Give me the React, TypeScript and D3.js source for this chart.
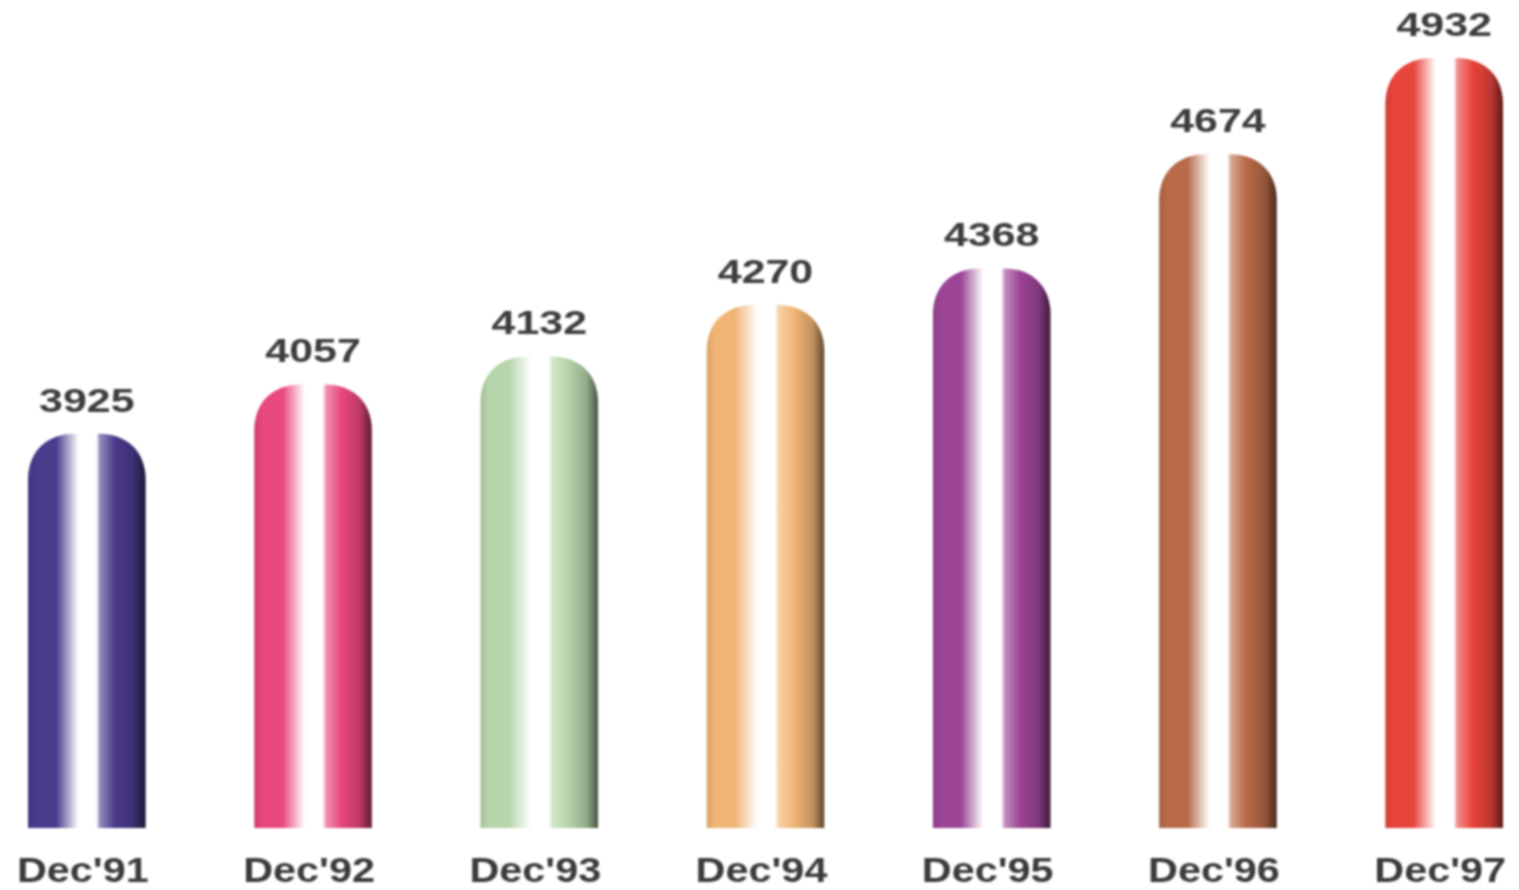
import React from "react";
import * as d3 from "d3";

const categories = ["Dec'91", "Dec'92", "Dec'93", "Dec'94", "Dec'95", "Dec'96", "Dec'97"];
const values = [3925, 4057, 4132, 4270, 4368, 4674, 4932];
const colors = ["#4b3a8c", "#e8477f", "#b6d5aa", "#f0b574", "#9c4595", "#b86a48", "#e8443c"];

const W = 1519;
const H = 890;

function shade(c: string, k: number) {
  const col = d3.rgb(c);
  return col.darker(k).formatHex();
}

export default function App() {
  const x = d3.scaleBand<string>().domain(categories).range([28, 1503]).paddingInner(0.48).paddingOuter(0);
  const y = d3.scaleLinear().domain([2868, 4932]).range([828, 58]);
  const bw = x.bandwidth();
  const r = 46;

  const barPath = (cat: string, v: number) => {
    const p = d3.path();
    const x0 = x(cat)!;
    const x1 = x0 + bw;
    const top = y(v);
    const bottom = y(2868);
    p.moveTo(x0, bottom);
    p.lineTo(x0, top + r);
    p.bezierCurveTo(x0, top + r * 0.35, x0 + r * 0.45, top, x0 + r, top);
    p.lineTo(x1 - r, top);
    p.bezierCurveTo(x1 - r * 0.45, top, x1, top + r * 0.35, x1, top + r);
    p.lineTo(x1, bottom);
    p.closePath();
    return p.toString();
  };

  return (
    <svg
      width={W}
      height={H}
      style={{ position: "absolute", left: 0, top: 0, display: "block", background: "#fff" }}
    >
      <defs>
        {colors.map((c, i) => {
          const light = d3.interpolateRgb(c, "#ffffff")(0.4);
          return (
            <linearGradient key={i} id={`g${i}`} x1="0" x2="1" y1="0" y2="0">
              <stop offset="0" stopColor={shade(c, 0.3)} />
              <stop offset="0.07" stopColor={c} />
              <stop offset="0.24" stopColor={c} />
              <stop offset="0.43" stopColor="#ffffff" />
              <stop offset="0.58" stopColor="#ffffff" />
              <stop offset="0.61" stopColor={light} />
              <stop offset="0.74" stopColor={c} />
              <stop offset="0.9" stopColor={shade(c, 0.6)} />
              <stop offset="1" stopColor={shade(c, 2.6)} />
            </linearGradient>
          );
        })}
        <filter id="blur" x="-5%" y="-5%" width="110%" height="110%">
          <feGaussianBlur stdDeviation="0.9" />
        </filter>
      </defs>
      {categories.map((cat, i) => (
        <path key={cat} d={barPath(cat, values[i])} fill={`url(#g${i})`} filter="url(#blur)" />
      ))}
      {categories.map((cat, i) => {
        const cx = x(cat)! + bw / 2;
        return (
          <text
            key={"v" + cat}
            transform={`translate(${cx},${y(values[i]) - 22}) scale(1.3,1)`}
            textAnchor="middle"
            fontFamily="'Liberation Sans', Arial, sans-serif"
            fontWeight="bold"
            fontSize={33}
            fill="#3c3c3c"
            filter="url(#blur)"
          >
            {values[i]}
          </text>
        );
      })}
      {categories.map((cat) => {
        const cx = x(cat)! + bw / 2;
        return (
          <text
            key={"c" + cat}
            transform={`translate(${cx - 4},${882}) scale(1.15,1)`}
            textAnchor="middle"
            fontFamily="'Liberation Sans', Arial, sans-serif"
            fontWeight="bold"
            fontSize={36}
            fill="#3a3a3a"
            filter="url(#blur)"
          >
            {cat}
          </text>
        );
      })}
    </svg>
  );
}
